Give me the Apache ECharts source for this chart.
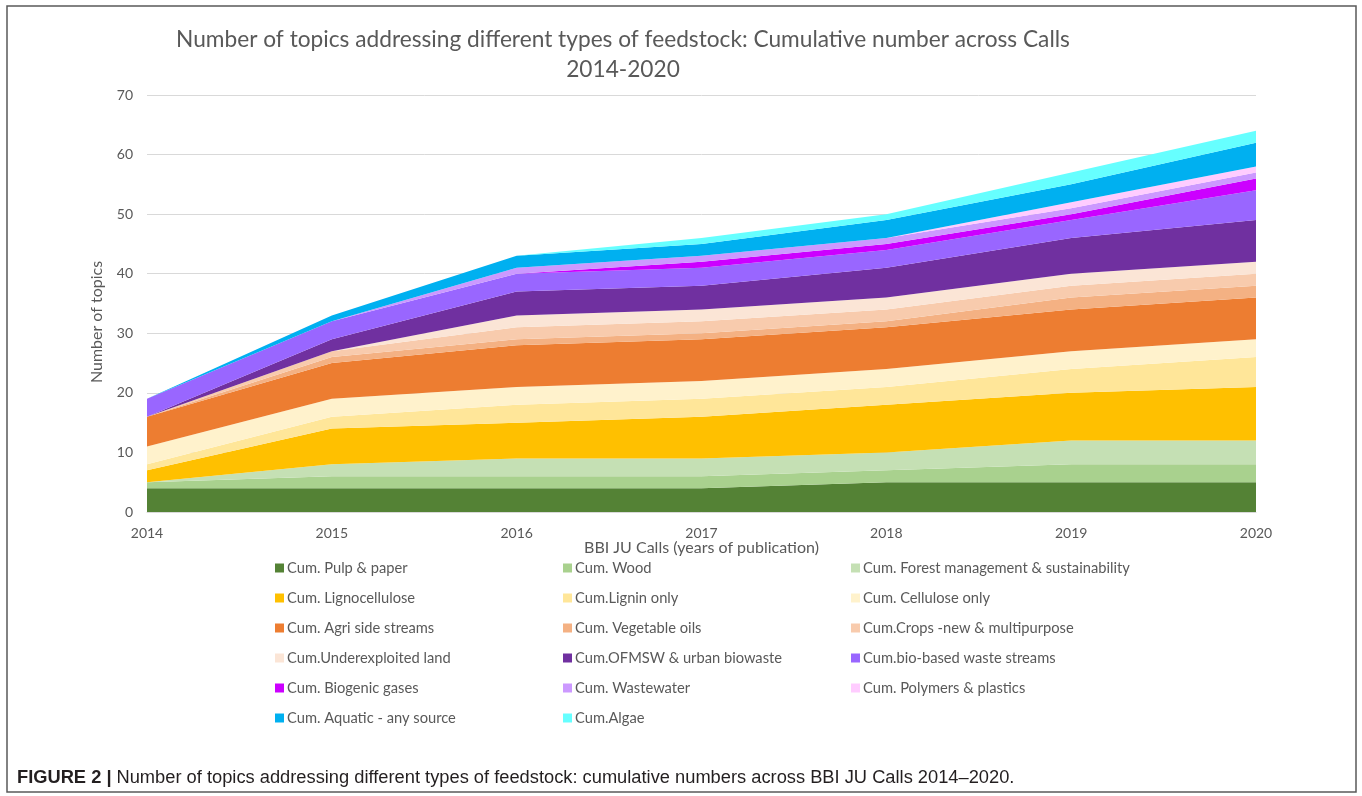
<!DOCTYPE html>
<html>
<head>
<meta charset="utf-8">
<script src="https://cdn.jsdelivr.net/npm/echarts@6/dist/echarts.min.js"></script>
<style>
html,body{margin:0;padding:0;background:#fff;}
#chart{width:1362px;height:796px;}
</style>
</head>
<body>
<div id="chart"></div>
<script>
const years = ['2014','2015','2016','2017','2018','2019','2020'];
const seriesNames = [
  'Cum. Pulp & paper','Cum. Wood','Cum. Forest management & sustainability',
  'Cum. Lignocellulose','Cum.Lignin only','Cum. Cellulose only',
  'Cum. Agri side streams','Cum. Vegetable oils','Cum.Crops -new & multipurpose',
  'Cum.Underexploited land','Cum.OFMSW & urban biowaste','Cum.bio-based waste streams',
  'Cum. Biogenic gases','Cum. Wastewater','Cum. Polymers & plastics',
  'Cum. Aquatic - any source','Cum.Algae'
];
const pulpPaper   = [4,4,4,4,5,5,5];
const wood        = [1,2,2,2,2,3,3];
const forest      = [0,2,3,3,3,4,4];
const ligno       = [2,6,6,7,8,8,9];
const lignin      = [1,2,3,3,3,4,5];
const cellulose   = [3,3,3,3,3,3,3];
const agri        = [5,6,7,7,7,7,7];
const vegOils     = [0,1,1,1,1,2,2];
const crops       = [0,1,2,2,2,2,2];
const underLand   = [0,0,2,2,2,2,2];
const ofmsw       = [0,2,4,4,5,6,7];
const bioWaste    = [3,3,3,3,3,3,5];
const biogenic    = [0,0,0,1,1,1,2];
const wastewater  = [0,0,1,1,1,1,1];
const polymers    = [0,0,0,0,0,1,1];
const aquatic     = [0,1,2,2,3,3,4];
const algae       = [0,0,0,1,1,2,2];
const yTicks = [0,10,20,30,40,50,60,70];

const seriesData = [pulpPaper,wood,forest,ligno,lignin,cellulose,agri,vegOils,crops,underLand,ofmsw,bioWaste,biogenic,wastewater,polymers,aquatic,algae];
const colors = ['#548235','#A9D18E','#C5E0B4','#FFC000','#FFE699','#FFF2CC','#ED7D31','#F4B183','#F8CBAD','#FBE5D6','#7030A0','#9966FF','#CC00FF','#CC99FF','#FFCCFF','#00B0F0','#66FFFF'];

const chart = echarts.init(document.getElementById('chart'));
const txt = '#595959';
const font = 'Lato, "Open Sans", sans-serif';
const capFont = '"Liberation Sans", Arial, sans-serif';

function legendCol(idx, left){
  return {
    orient:'vertical', left:left, top:555, itemWidth:9, itemHeight:9, icon:'rect',
    itemGap:14, selectedMode:false,
    textStyle:{color:txt, fontSize:14.7, fontFamily:font, lineHeight:16, padding:[0,0,0,-2]},
    data: idx.map(i=>seriesNames[i])
  };
}

const option = {
  animation:false,
  color:colors,
  title:[
    {text:'Number of topics addressing different types of feedstock: Cumulative number across Calls\n2014-2020',
     left:618, top:20, textAlign:'center',
     textStyle:{color:txt, fontSize:22.7, fontWeight:'normal', fontFamily:font, lineHeight:30}},
    {text:'{b|FIGURE 2 |} {r|Number of topics addressing different types of feedstock: cumulative numbers across BBI JU Calls 2014–2020.}',
     left:12, top:764,
     textStyle:{fontWeight:'normal', rich:{
       b:{fontFamily:capFont, fontWeight:'bold', fontSize:18.3, color:'#231f20'},
       r:{fontFamily:capFont, fontWeight:'normal', fontSize:18.3, color:'#231f20'}
     }}}
  ],
  graphic:[
    {type:'rect', shape:{x:7,y:6,width:1349,height:786}, style:{fill:'none', stroke:'#595959', lineWidth:1.5}, silent:true},
    {type:'text', x:97, y:322, rotation:Math.PI/2, silent:true,
     style:{text:'Number of topics', fill:txt, fontSize:16, fontFamily:font, align:'center', verticalAlign:'middle'}}
  ],
  legend:[
    legendCol([0,3,6,9,12,15], 270),
    legendCol([1,4,7,10,13,16], 558),
    legendCol([2,5,8,11,14], 846)
  ],
  grid:{left:147, right:106, top:95, bottom:284},
  xAxis:{
    type:'category', data:years, boundaryGap:false,
    axisLine:{lineStyle:{color:'#d9d9d9'}}, axisTick:{show:false},
    axisLabel:{color:txt, fontSize:14, fontFamily:font, margin:14},
    name:'BBI JU Calls (years of publication)', nameLocation:'middle', nameGap:28,
    nameMoveOverlap:false,
    nameTextStyle:{color:txt, fontSize:16, fontFamily:font}
  },
  yAxis:{
    type:'value', min:yTicks[0], max:yTicks[yTicks.length-1], interval:10,
    axisLine:{show:false}, axisTick:{show:false},
    splitLine:{lineStyle:{color:'#d9d9d9'}},
    axisLabel:{color:txt, fontSize:14, fontFamily:font, margin:14}
  },
  series: seriesData.map((d,i)=>({
    name:seriesNames[i], type:'line', stack:'total', data:d,
    showSymbol:false, symbol:'none', lineStyle:{width:0},
    areaStyle:{color:colors[i], opacity:1}, itemStyle:{color:colors[i]}
  }))
};
chart.setOption(option);
</script>
</body>
</html>
